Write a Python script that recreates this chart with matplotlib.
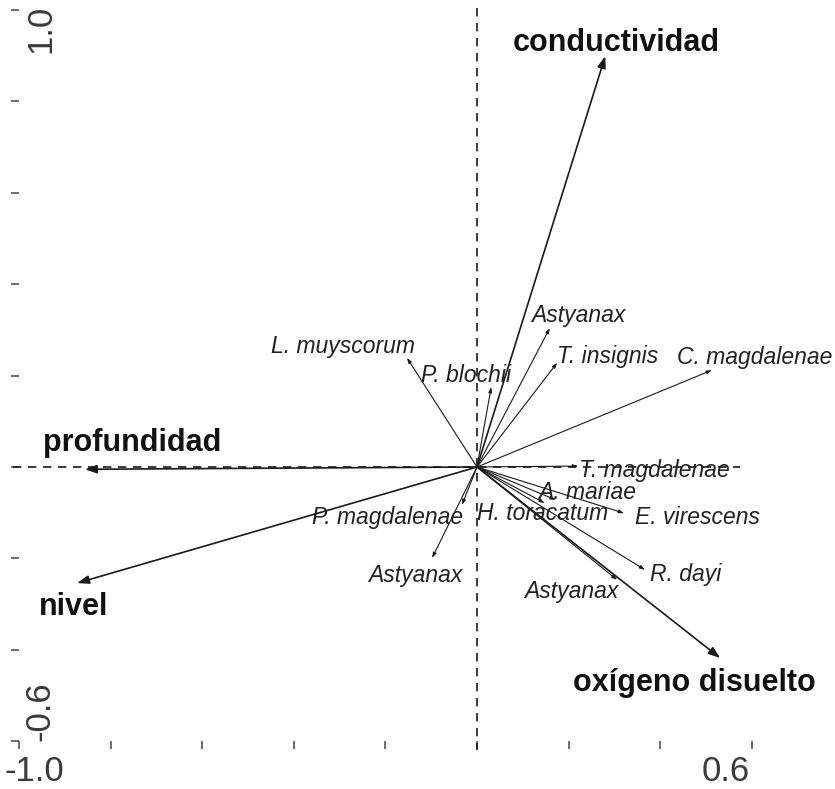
import numpy as np
import matplotlib
matplotlib.use('Agg')
import matplotlib.pyplot as plt

plt.rcParams['font.family'] = ['Liberation Sans', 'DejaVu Sans']

# environmental variables (biplot arrows)
env_names = ['conductividad', 'profundidad', 'nivel', 'oxígeno disuelto']
env_x = [0.280, -0.856, -0.873, 0.531]
env_y = [0.899, -0.005, -0.254, -0.418]

# species scores
sp_names = ['L. muyscorum', 'P. blochii', 'Astyanax', 'T. insignis', 'C. magdalenae',
            'T. magdalenae', 'A. mariae', 'H. toracatum', 'E. virescens', 'R. dayi',
            'Astyanax', 'Astyanax', 'P. magdalenae']
sp_x = [-0.153, 0.031, 0.159, 0.175, 0.513, 0.221, 0.172, 0.148, 0.321, 0.367,
        0.306, -0.098, -0.033]
sp_y = [0.239, 0.175, 0.304, 0.228, 0.212, 0.002, -0.072, -0.079, -0.101, -0.225,
        -0.247, -0.199, -0.083]

x_ticks = [-1.0, -0.8, -0.6, -0.4, -0.2, 0.0, 0.2, 0.4, 0.6]
y_ticks = [-0.6, -0.4, -0.2, 0.0, 0.2, 0.4, 0.6, 0.8, 1.0]

# label offsets in pixels (dx right, dy up)
env_off = [(11, 13), (47, 26), (-4, -24), (-26, -25)]
sp_off = [(-64, 11), (-25, 12), (28, 13), (50, 6), (43, 13), (76, -4), (31, 7),
          (-2, -10), (73, -4), (41, -5), (-46, -12), (-17, -18), (-74, -13)]

ink = '#1a1a1a'
px = 0.72  # pixels -> points at 100 dpi

fig = plt.figure(figsize=(8.35, 7.89), dpi=100)
ax = fig.add_axes([0, 0, 1, 1])
ax.set_xlim(-477 / 458, (835 - 477) / 458)
ax.set_ylim((467 - 789) / 457, 467 / 457)

for s in ax.spines.values():
    s.set_color('none')
ax.spines['left'].set_position(('data', -1.0))
ax.spines['bottom'].set_position(('data', -0.6))
ax.set_xticks(x_ticks)
ax.set_yticks(y_ticks)
ax.set_xticklabels([])
ax.set_yticklabels([])
ax.tick_params(axis='both', direction='out', length=6, width=1.2, color='#555555')

# only the end values are labelled
lab = dict(textcoords='offset points', fontsize=25, color='#3a3a3a')
ax.annotate('-1.0', (x_ticks[0], y_ticks[0]), xytext=(-14 * px, -14 * px),
            ha='left', va='top', **lab)
ax.annotate('0.6', (x_ticks[-1], y_ticks[0]), xytext=(-2 * px, -14 * px),
            ha='right', va='top', **lab)
ax.annotate('1.0', (x_ticks[0], y_ticks[-1]), xytext=(5 * px, 5 * px),
            ha='left', va='top', rotation=90, **lab)
ax.annotate('-0.6', (x_ticks[0], y_ticks[0]), xytext=(5 * px, 0),
            ha='left', va='bottom', rotation=90, **lab)

# dashed axes through the origin
ax.plot([0, 0], [1.004, -0.62], ls=(0, (5, 4)), color=ink, lw=1.2)
ax.plot([-1.013, 0.574], [0, 0], ls=(0, (5, 4)), color=ink, lw=1.2)

for i in range(len(sp_names)):
    ax.annotate('', xy=(sp_x[i], sp_y[i]), xytext=(0, 0),
                arrowprops=dict(arrowstyle='-|>,head_length=0.3,head_width=0.1',
                                color=ink, lw=0.8, shrinkA=0, shrinkB=0))
    ax.annotate(sp_names[i], (sp_x[i], sp_y[i]),
                xytext=(sp_off[i][0] * px, sp_off[i][1] * px), textcoords='offset points',
                ha='center', va='center', fontsize=16.5, style='italic', color='#222222')

for i in range(len(env_names)):
    ax.annotate('', xy=(env_x[i], env_y[i]), xytext=(0, 0),
                arrowprops=dict(arrowstyle='-|>,head_length=0.7,head_width=0.25',
                                color=ink, lw=1.2, shrinkA=0, shrinkB=0))
    ax.annotate(env_names[i], (env_x[i], env_y[i]),
                xytext=(env_off[i][0] * px, env_off[i][1] * px), textcoords='offset points',
                ha='center', va='center', fontsize=22, fontweight='bold', color='#111111')

fig.savefig('out.png', dpi=100)
